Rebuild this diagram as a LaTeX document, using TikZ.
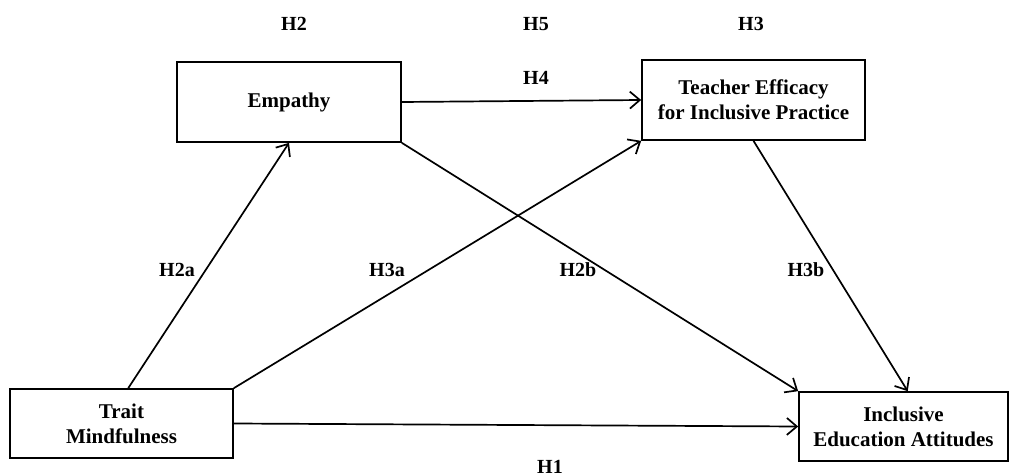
\documentclass[tikz,border=0pt]{standalone}
\usepackage{fontspec}
\setmainfont{Liberation Serif}
\usetikzlibrary{arrows.meta,calc}
\begin{document}
\begin{tikzpicture}[x=1pt,y=-1pt,
  box/.style={draw,line width=1.7pt,inner sep=0pt,align=center,font=\fontsize{21}{25}\selectfont\bfseries},
  lbl/.style={font=\fontsize{20}{24}\selectfont\bfseries,inner sep=0pt},
  arr/.style={line width=1.7pt,-{Straight Barb[length=10pt,width=17pt,line width=1.7pt]}}]
\useasboundingbox (0,0) rectangle (1010,476);
\node[box,minimum width=224pt,minimum height=80pt] (emp) at (289,102) {Empathy};
\node[box,minimum width=223pt,minimum height=80pt] (tea) at (753.5,100) {Teacher Efficacy\\for Inclusive Practice};
\node[box,minimum width=223pt,minimum height=69pt] (tra) at (121.5,423.5) {Trait\\Mindfulness};
\node[box,minimum width=209pt,minimum height=69pt] (inc) at (903.5,426.5) {Inclusive\\Education Attitudes};
\coordinate (traT) at ($(tra.north west)!0.53!(tra.north east)$);
\coordinate (incT) at ($(inc.north west)!0.52!(inc.north east)$);
\draw[arr] (emp.east) -- (tea.west);
\draw[arr] (traT) -- (emp.south);
\draw[arr] (tra.north east) -- (tea.south west);
\draw[arr] (emp.south east) -- (inc.north west);
\draw[arr] (tea.south) -- (incT);
\draw[arr] (tra.east) -- (inc.west);
\node[lbl] (h2) at (294,24) {H2};
\node[lbl] (h5) at (536,24) {H5};
\node[lbl] (h3) at (751,24) {H3};
\node[lbl] (h4) at (536,78) {H4};
\node[lbl] (h2a) at (177,270) {H2a};
\node[lbl] (h3a) at (387,270) {H3a};
\node[lbl] (h2b) at (578,270) {H2b};
\node[lbl] (h3b) at (806,270) {H3b};
\node[lbl] (h1) at (550,467) {H1};
\end{tikzpicture}
\end{document}
